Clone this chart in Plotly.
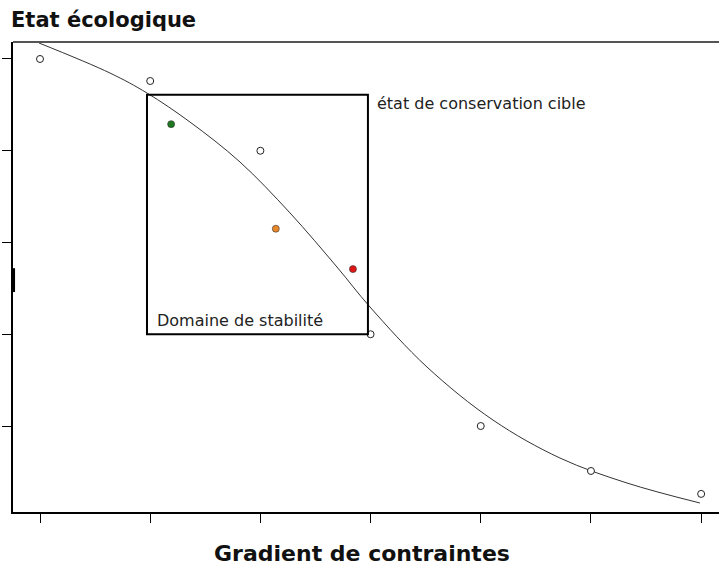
import plotly.graph_objects as go

# --- data ---
site_x = [0, 1, 2, 3, 4, 5, 6]
site_y = [5.0, 4.76, 4.0, 2.0, 1.0, 0.51, 0.26]

target_x = [1.19, 2.14, 2.84]
target_y = [4.29, 3.15, 2.71]
target_colors = ["#1f7a1f", "#e8862a", "#e01515"]

curve_x = [-0.009, 0.635, 0.971, 1.361, 1.815, 2.269, 2.695, 2.995, 3.512, 4.111, 4.719, 5.327, 5.989]
curve_y = [5.174, 4.847, 4.629, 4.313, 3.877, 3.322, 2.733, 2.297, 1.643, 1.065, 0.651, 0.379, 0.161]

x_ticks = [0, 1, 2, 3, 4, 5, 6]
y_ticks = [1, 2, 3, 4, 5]

box_x = [0.971, 2.976]
box_y = [2.0, 4.61]

x_range = [-0.245, 6.162]
y_range = [0.063, 5.185]

title_text = "Etat écologique"
xlabel_text = "Gradient de contraintes"
target_label = "état de conservation cible"
box_label = "Domaine de stabilité"

fig = go.Figure()

fig.add_trace(go.Scatter(
    x=curve_x, y=curve_y, mode="lines", line_shape="spline",
    line=dict(color="#333333", width=1, smoothing=1), hoverinfo="skip"))

fig.add_trace(go.Scatter(
    x=site_x, y=site_y, mode="markers",
    marker=dict(size=7, color="white", line=dict(color="#222222", width=1))))

fig.add_trace(go.Scatter(
    x=target_x, y=target_y, mode="markers",
    marker=dict(size=7, color=target_colors, line=dict(color="#333333", width=0.6))))

# stability domain box
fig.add_shape(type="rect", x0=box_x[0], x1=box_x[1], y0=box_y[0], y1=box_y[1],
              line=dict(color="black", width=2), layer="above")
# top border line (grey)
fig.add_shape(type="line", xref="paper", yref="paper", x0=0, x1=1, y0=1, y1=1,
              line=dict(color="#555555", width=2))
# thick mark on left axis
fig.add_shape(type="line", x0=x_range[0] + 0.005, x1=x_range[0] + 0.005, y0=2.46, y1=2.72,
              line=dict(color="black", width=3))

fig.add_annotation(text=target_label, x=3.04, y=4.52, xanchor="left", yanchor="middle",
                   showarrow=False, font=dict(family="DejaVu Sans", size=16, color="#222222"))
fig.add_annotation(text=box_label, x=1.04, y=2.155, xanchor="left", yanchor="middle",
                   showarrow=False, font=dict(family="DejaVu Sans", size=16, color="#222222"))
fig.add_annotation(text="<b>" + title_text + "</b>", xref="paper", yref="paper",
                   x=-0.006, y=1.047, xanchor="left", yanchor="middle", showarrow=False,
                   font=dict(family="DejaVu Sans", size=21, color="#111111"))
fig.add_annotation(text="<b>" + xlabel_text + "</b>", xref="paper", yref="paper",
                   x=(362 - 13) / 706, y=-0.089, xanchor="center", yanchor="middle", showarrow=False,
                   font=dict(family="DejaVu Sans", size=22, color="#111111"))

fig.update_xaxes(range=x_range, tickvals=x_ticks, showticklabels=False, ticks="outside",
                 ticklen=9, tickwidth=1, tickcolor="black", showline=True, linecolor="black",
                 linewidth=2, showgrid=False, zeroline=False)
fig.update_yaxes(range=y_range, tickvals=y_ticks, showticklabels=False, ticks="outside",
                 ticklen=9, tickwidth=1, tickcolor="black", showline=True, linecolor="black",
                 linewidth=2, showgrid=False, zeroline=False)

fig.update_layout(width=719, height=567, margin=dict(l=13, r=0, t=42, b=55),
                  plot_bgcolor="white", paper_bgcolor="white", showlegend=False)

fig.write_html("out.html", config={"displayModeBar": False},
               post_script="document.body.style.margin='0';")
